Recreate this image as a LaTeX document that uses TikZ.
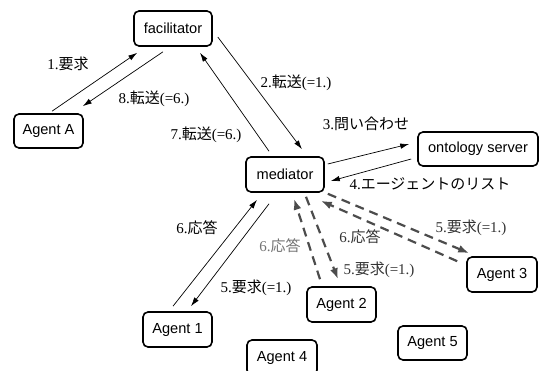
\documentclass[tikz,border=0pt]{standalone}
\usepackage{fontspec}
\setmainfont{Liberation Serif}
\newfontfamily\boxfont{Liberation Sans}
\newfontfamily\jp{Noto Sans CJK JP}
\usetikzlibrary{arrows.meta,calc}
\begin{document}
\begin{tikzpicture}[x=1pt,y=-1pt,
  agentbox/.style={draw,line width=1.6pt,rounded corners=5pt,font=\boxfont\fontsize{14.6}{15}\selectfont,inner sep=0pt},
  msg/.style={line width=0.7pt,-{Latex[length=9pt,width=5.5pt]}},
  dmsg/.style={line width=2.2pt,draw=black!70,dash pattern=on 9pt off 6pt,-{Latex[length=11pt,width=8pt]}},
  lbl/.style={font=\fontsize{15}{16}\selectfont,inner sep=0pt},
  glbl/.style={lbl,text=black!55},
  dlbl/.style={lbl,text=black!80}]
\useasboundingbox (0,0) rectangle (539,371);
\clip (0,0) rectangle (539,371);
\node[agentbox,minimum width=78pt,minimum height=35pt] (fac) at (173,28.5) {facilitator};
\node[agentbox,minimum width=69pt,minimum height=34pt] (aa) at (48.5,131) {Agent A};
\node[agentbox,minimum width=78pt,minimum height=35pt] (med) at (285,174.5) {mediator};
\node[agentbox,minimum width=120pt,minimum height=34pt] (ont) at (478,149) {ontology server};
\node[agentbox,minimum width=69pt,minimum height=35pt] (a1) at (177.5,329.5) {Agent 1};
\node[agentbox,minimum width=69pt,minimum height=35pt] (a2) at (341.5,304.5) {Agent 2};
\node[agentbox,minimum width=70pt,minimum height=35pt] (a3) at (502,274.5) {Agent 3};
\node[agentbox,minimum width=70pt,minimum height=35pt] (a4) at (282,357.5) {Agent 4};
\node[agentbox,minimum width=69pt,minimum height=34pt] (a5) at (432.5,343) {Agent 5};
% solid connectors
\draw[msg] ($(aa.north)+(3.5,-2)$) -- ($(fac.south west)+(4,6)$);
\draw[msg] ($(fac.south)+(-10,5)$) -- ($(aa.north east)+(-1,-7)$);
\draw[msg] ($(fac.east)+(5,8.5)$) -- ($(med.north)+(17,-7)$);
\draw[msg] ($(med.north)+(-16,-5)$) -- ($(fac.south)+(27,6)$);
\draw[msg] ($(med.east)+(3,-10.5)$) -- ($(ont.west)+(-8,-5)$);
\draw[msg] ($(ont.west)+(-6,10)$) -- ($(med.east)+(6,6.5)$);
\draw[msg] ($(a1.north)+(-4.5,-5)$) -- ($(med.south)+(-28,7)$);
\draw[msg] ($(med.south)+(-16,11)$) -- ($(a1.north)+(13.5,-5)$);
% dashed connectors
\draw[dmsg] ($(a2.north)+(-21.5,-7)$) -- ($(med.south)+(9,6)$);
\draw[dmsg] ($(med.south)+(21,4)$) -- ($(a2.north)+(-3.5,-7)$);
\draw[dmsg] ($(a3.north west)+(-9,5)$) -- ($(med.south east)+(-4,8)$);
\draw[dmsg] ($(med.south east)+(3,1)$) -- ($(a3.north west)+(3,-3)$);
% labels
\node[lbl] (l1) at (68,64) {1.{\jp 要求}};
\node[lbl] (l8) at (154,99) {8.{\jp 転送}(=6.)};
\node[lbl] (l7) at (206,135) {7.{\jp 転送}(=6.)};
\node[lbl] (l2) at (296,83) {2.{\jp 転送}(=1.)};
\node[lbl] (l3) at (366,124) {3.{\jp 問い合わせ}};
\node[lbl] (l4) at (430,184) {4.{\jp エージェントのリスト}};
\node[lbl] (l6a) at (197,228) {6.{\jp 応答}};
\node[lbl] (l5a) at (256,288) {5.{\jp 要求}(=1.)};
\node[glbl] (l6b) at (280,246) {6.{\jp 応答}};
\node[dlbl] (l6c) at (360,237) {6.{\jp 応答}};
\node[dlbl] (l5b) at (379,270) {5.{\jp 要求}(=1.)};
\node[dlbl] (l5c) at (471,228) {5.{\jp 要求}(=1.)};
\end{tikzpicture}
\end{document}
